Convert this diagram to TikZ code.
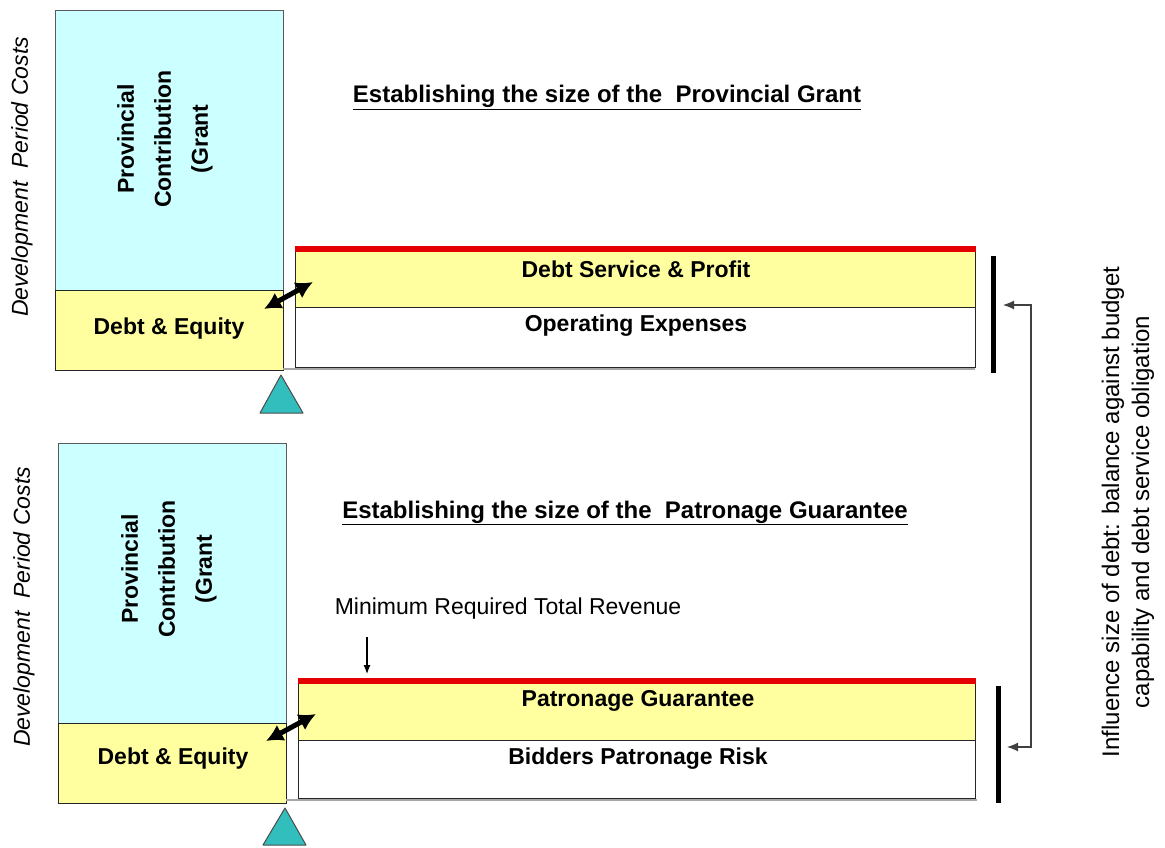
\documentclass[tikz,border=0pt]{standalone}
\usepackage{fontspec}
\setmainfont{Liberation Sans}
\usetikzlibrary{arrows.meta}

\definecolor{grantcyan}{RGB}{204,255,255}
\definecolor{fundyellow}{RGB}{255,255,160}
\definecolor{capred}{RGB}{228,0,0}
\definecolor{pivotteal}{RGB}{51,190,190}
\definecolor{edgegray}{RGB}{90,90,90}

\tikzset{
  cell/.style={draw=black!85, line width=1.2pt, inner sep=0pt, anchor=north west},
  grantcell/.style={cell, draw=edgegray, fill=grantcyan},
  fundcell/.style={cell, fill=fundyellow},
  plaincell/.style={cell, fill=white},
  boxlabel/.style={font=\fontsize{23}{28}\selectfont\bfseries, inner sep=0pt, anchor=base},
  grantlabel/.style={font=\fontsize{23}{37}\selectfont\bfseries, rotate=90, align=center, inner sep=0pt},
  costlabel/.style={font=\fontsize{23}{28}\selectfont\itshape, rotate=90, inner sep=0pt},
  heading/.style={font=\fontsize{24}{29}\selectfont\bfseries, inner sep=0pt, anchor=base},
  note/.style={font=\fontsize{23}{28}\selectfont, inner sep=0pt, anchor=base},
  sidenote/.style={font=\fontsize{24}{30}\selectfont, rotate=90, align=center, inner sep=0pt},
  capline/.style={draw=capred, line width=6pt},
  rangebar/.style={line width=5pt, line cap=butt},
  shadowline/.style={draw=black!35, line width=2pt},
  pivot/.style={draw=black!70, line width=1pt, fill=pivotteal, line join=round},
  linkarrow/.style={line width=5pt, {Latex[length=17pt,width=18pt]}-{Latex[length=17pt,width=18pt]}},
  feedback/.style={draw=black!75, line width=1.2pt, {Latex[length=11pt,width=9pt]}-{Latex[length=11pt,width=9pt]}},
  pointer/.style={line width=1.2pt, -{Latex[length=9pt,width=7pt]}}
}

\begin{document}
\begin{tikzpicture}[x=1pt, y=-1pt]
\useasboundingbox (0,0) rectangle (1165,848);

% ---------- upper panel: provincial grant ----------
\node[grantcell, minimum width=228pt, minimum height=280pt] (grantA) at (55,10) {};
\node[fundcell, minimum width=228pt, minimum height=80pt] (equityA) at (55,290) {};
\node[grantlabel] (grantAtxt) at (165,139) {Provincial\\Contribution\\(Grant};
\node[boxlabel] (equityAtxt) at (169,334) {Debt \& Equity};
\node[costlabel] (costA) at (22,177) {Development\ \ Period Costs};

\draw[shadowline] (283,369) -- (975,369);
\node[fundcell, minimum width=680pt, minimum height=56pt] (serviceA) at (295,251) {};
\node[plaincell, minimum width=680pt, minimum height=60pt] (opexA) at (295,307) {};
\draw[capline] ([yshift=2pt]serviceA.north west) -- ([yshift=2pt]serviceA.north east);
\node[boxlabel] (serviceAtxt) at (636,277) {Debt Service \& Profit};
\node[boxlabel] (opexAtxt) at (636,331) {Operating Expenses};

\node[heading] (headA) at (607,103) {\underline{Establishing the size of the\ \ Provincial Grant}};

\coordinate (linkAfrom) at (264,309);
\coordinate (linkAto) at (313,282);
\draw[linkarrow] (linkAfrom) -- (linkAto);

\coordinate (barAtop) at (993,256);
\coordinate (barAbot) at (993,373);
\draw[rangebar] (barAtop) -- (barAbot);

\coordinate (pivotA) at (281,375);
\draw[pivot] (pivotA) -- (303,413) -- (260,413) -- cycle;

% ---------- lower panel: patronage guarantee ----------
\node[grantcell, minimum width=228pt, minimum height=280pt] (grantB) at (58,443) {};
\node[fundcell, minimum width=228pt, minimum height=80pt] (equityB) at (58,723) {};
\node[grantlabel] (grantBtxt) at (169,569) {Provincial\\Contribution\\(Grant};
\node[boxlabel] (equityBtxt) at (173,764) {Debt \& Equity};
\node[costlabel] (costB) at (24,607) {Development\ \ Period Costs};

\draw[shadowline] (286,800) -- (977,800);
\node[fundcell, minimum width=677pt, minimum height=57pt] (guarB) at (298,683) {};
\node[plaincell, minimum width=677pt, minimum height=58pt] (riskB) at (298,740) {};
\draw[capline] ([yshift=2pt]guarB.north west) -- ([yshift=2pt]guarB.north east);
\node[boxlabel] (guarBtxt) at (638,706) {Patronage Guarantee};
\node[boxlabel] (riskBtxt) at (638,764) {Bidders Patronage Risk};

\node[heading] (headB) at (625,518) {\underline{Establishing the size of the\ \ Patronage Guarantee}};
\node[note] (minrev) at (508,614) {Minimum Required Total Revenue};

\coordinate (minFrom) at (367,637);
\coordinate (minTo) at (367,674);
\draw[pointer] (minFrom) -- (minTo);

\coordinate (linkBfrom) at (266,741);
\coordinate (linkBto) at (316,714);
\draw[linkarrow] (linkBfrom) -- (linkBto);

\coordinate (barBtop) at (998,686);
\coordinate (barBbot) at (998,803);
\draw[rangebar] (barBtop) -- (barBbot);

\coordinate (pivotB) at (285,808);
\draw[pivot] (pivotB) -- (306,845) -- (263,845) -- cycle;

% ---------- feedback between the two revenue ranges ----------
\coordinate (fbTop) at (1003,305);
\coordinate (fbBot) at (1007,747);
\draw[feedback] (fbTop) -- ++(28,0) |- (fbBot);

\node[sidenote] (influence) at (1128,512) {Influence size of debt: balance against budget\\capability and debt service obligation};
\end{tikzpicture}
\end{document}
